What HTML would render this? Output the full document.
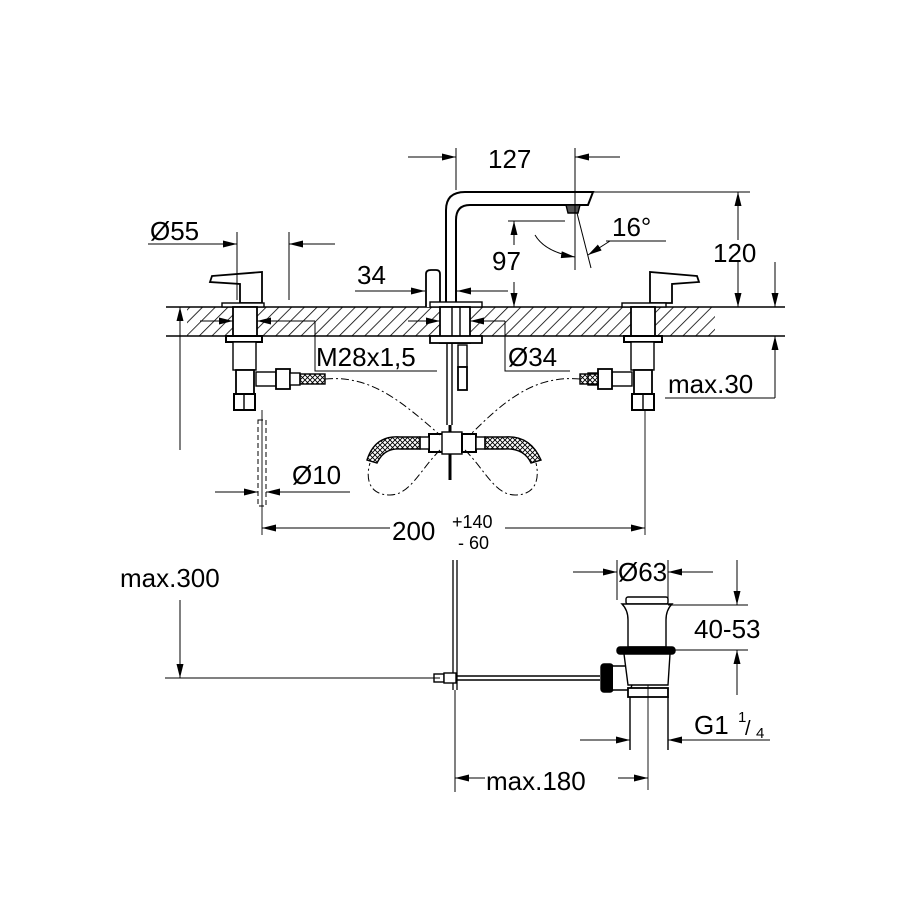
<!DOCTYPE html>
<html><head><meta charset="utf-8"><style>
html,body{margin:0;padding:0;background:#fff}
svg{display:block}
text{font-family:"Liberation Sans",sans-serif;fill:#000}
</style></head><body>
<svg width="900" height="900" viewBox="0 0 900 900" xmlns="http://www.w3.org/2000/svg">
<defs>
<marker id="a" viewBox="0 0 14 7" refX="14" refY="3.5" markerWidth="14" markerHeight="7" orient="auto" markerUnits="userSpaceOnUse"><path d="M0,0 L14,3.5 L0,7 z" fill="#000"/></marker>
<pattern id="h" width="9" height="9" patternUnits="userSpaceOnUse" patternTransform="rotate(45)"><line x1="0" y1="0" x2="0" y2="9" stroke="#000" stroke-width="1.6"/></pattern>
<pattern id="br" width="5" height="5" patternUnits="userSpaceOnUse"><path d="M0,0L5,5M5,0L0,5" stroke="#000" stroke-width="0.9"/></pattern>
</defs>
<g fill="none" stroke="#000" stroke-width="1.4">
<rect x="187" y="307" width="528" height="29" fill="url(#h)" stroke="none"/>
<line x1="166" y1="307" x2="785" y2="307"/>
<line x1="166" y1="336" x2="785" y2="336"/>

<path d="M212,276 L262,272 L262,303 L240,303 L240,284 L210,282 Z" fill="#fff" stroke-width="1.8"/>
<rect x="222" y="303" width="42" height="4" fill="#fff"/>
<rect x="233" y="307" width="24" height="30" fill="#fff" stroke-width="1.8"/>
<rect x="226" y="336" width="36" height="6" fill="#fff" stroke-width="2"/>
<rect x="233" y="342" width="23" height="28" fill="#fff"/>
<rect x="236" y="370" width="18" height="24" fill="#fff" stroke-width="1.8"/>
<rect x="234" y="394" width="21" height="16" fill="#fff" stroke-width="2"/>
<line x1="244" y1="394" x2="244" y2="410"/>
<rect x="256" y="372" width="20" height="14" fill="#fff"/>
<rect x="276" y="369" width="14" height="20" fill="#fff" stroke-width="1.8"/>
<rect x="290" y="373" width="10" height="12" fill="#fff"/>
<rect x="300" y="374" width="25" height="10" fill="url(#br)"/>

<path d="M697,276 L650,272 L650,303 L672,303 L672,284 L699,282 Z" fill="#fff" stroke-width="1.8"/>
<rect x="622" y="303" width="44" height="4" fill="#fff"/>
<rect x="631" y="307" width="24" height="30" fill="#fff" stroke-width="1.8"/>
<rect x="624" y="336" width="38" height="6" fill="#fff" stroke-width="2"/>
<rect x="631" y="342" width="23" height="28" fill="#fff"/>
<rect x="634" y="370" width="18" height="24" fill="#fff" stroke-width="1.8"/>
<rect x="632" y="394" width="22" height="16" fill="#fff" stroke-width="2"/>
<line x1="643" y1="394" x2="643" y2="410"/>
<rect x="612" y="372" width="20" height="14" fill="#fff"/>
<rect x="598" y="369" width="14" height="20" fill="#fff" stroke-width="1.8"/>
<rect x="588" y="373" width="10" height="12" fill="#fff"/>
<rect x="580" y="374" width="18" height="10" fill="url(#br)"/>

<path d="M446,307 L446,210 Q446,192 465,192 L593,192 L588,205 L470,205 Q456,205 456,220 L456,307" fill="#fff" stroke-width="2"/>
<path d="M566,205 L580,205 L578,213 L568,213 Z" fill="#555"/>
<path d="M426,307 L426,274 Q426,270 431,270 L436,270 Q440,270 440,274 L440,307" fill="#fff" stroke-width="1.8"/>
<rect x="430" y="302" width="52" height="5" fill="#fff"/>
<rect x="440" y="307" width="30" height="36" fill="#fff" stroke-width="1.8"/>
<line x1="452" y1="307" x2="452" y2="343"/><line x1="460" y1="307" x2="460" y2="343"/>
<rect x="430" y="336" width="52" height="7" fill="#fff" stroke-width="1.8"/>
<line x1="447" y1="343" x2="447" y2="405"/><line x1="452" y1="343" x2="452" y2="405"/>
<rect x="458" y="345" width="9" height="22" fill="#fff"/>
<rect x="458" y="367" width="9" height="23" fill="#fff" stroke-width="1.8"/>
<path d="M447,405 L447,425 M452,405 L452,425"/>
<line x1="450" y1="425" x2="450" y2="480" stroke-width="3"/>

<rect x="429" y="434" width="14" height="18" fill="#fff" stroke-width="2"/>
<rect x="442" y="432" width="20" height="22" fill="#fff"/>
<rect x="462" y="434" width="14" height="18" fill="#fff" stroke-width="2"/>
<rect x="420" y="437" width="9" height="12" fill="#fff"/>
<rect x="476" y="437" width="9" height="12" fill="#fff"/>
<path d="M420,437 L400,437 Q375,435 367,460 L377,463 Q384,448 400,449 L420,449 Z" fill="url(#br)"/>
<path d="M485,437 L505,437 Q530,435 541,460 L531,463 Q524,448 505,449 L485,449 Z" fill="url(#br)"/>

<g stroke-dasharray="8,3,2,3" stroke-width="1">
<path d="M325,379 C370,375 400,400 440,435"/>
<path d="M580,379 C535,375 505,400 470,435"/>
<path d="M440,450 C420,470 410,495 390,495 C370,495 365,480 370,463"/>
<path d="M465,450 C485,470 495,495 515,495 C535,495 540,480 536,463"/>
</g>

<rect x="258" y="420" width="8" height="86" stroke-dasharray="5,3" stroke-width="1"/>
<line x1="262" y1="410" x2="262" y2="535" stroke-width="0.9"/>
<line x1="645" y1="410" x2="645" y2="535" stroke-width="0.9"/>

<line x1="453" y1="560" x2="453" y2="690" stroke-width="1.3"/>
<line x1="457" y1="560" x2="457" y2="690" stroke-width="1.3"/>
<line x1="440" y1="676" x2="600" y2="676"/>
<line x1="440" y1="680" x2="600" y2="680"/>
<rect x="434" y="674" width="10" height="8" fill="#fff"/>
<rect x="444" y="673" width="12" height="10" fill="#fff"/>
<rect x="601" y="664" width="12" height="28" rx="3" fill="#000"/>
<path d="M613,666 L630,666 Q636,678 630,690 L613,690" fill="#fff"/>
<rect x="626" y="597" width="42" height="7" rx="2" fill="#fff"/>
<path d="M622,604 L672,604 Q666,610 666,620 L666,647 L628,647 L628,620 Q628,610 622,604 Z" fill="#fff"/>
<rect x="617" y="647" width="58" height="7" rx="3" fill="#000"/>
<path d="M624,654 L670,654 L668,685 L628,685 Z" fill="#fff"/>
<rect x="628" y="688" width="40" height="9" fill="#fff" stroke-width="1.8"/>
<line x1="630" y1="697" x2="630" y2="750"/>
<line x1="668" y1="697" x2="668" y2="750"/>
<line x1="648" y1="685" x2="648" y2="790" stroke-width="0.9"/>
</g>

<g fill="none" stroke="#000" stroke-width="1">
<line x1="456" y1="148" x2="456" y2="190"/><line x1="575" y1="148" x2="575" y2="270"/>
<line x1="408" y1="157" x2="456" y2="157" marker-end="url(#a)"/>
<line x1="620" y1="157" x2="575" y2="157" marker-end="url(#a)"/>
<line x1="593" y1="192" x2="750" y2="192"/>
<line x1="738" y1="240" x2="738" y2="192" marker-end="url(#a)"/>
<line x1="738" y1="262" x2="738" y2="307" marker-end="url(#a)"/>
<line x1="775" y1="262" x2="775" y2="307" marker-end="url(#a)"/>
<line x1="775" y1="398" x2="775" y2="336" marker-end="url(#a)"/>
<line x1="665" y1="398" x2="775" y2="398"/>
<line x1="508" y1="221" x2="565" y2="221"/>
<line x1="514" y1="245" x2="514" y2="221" marker-end="url(#a)"/>
<line x1="514" y1="282" x2="514" y2="307" marker-end="url(#a)"/>
<line x1="577" y1="213" x2="591" y2="268"/>
<path d="M535,235 Q545,252 575,257" marker-end="url(#a)"/>
<line x1="610" y1="241" x2="588" y2="255" marker-end="url(#a)"/>
<line x1="606" y1="241" x2="666" y2="241"/>
<line x1="355" y1="291" x2="425" y2="291" marker-end="url(#a)"/>
<line x1="508" y1="291" x2="457" y2="291" marker-end="url(#a)"/>
<line x1="237" y1="232" x2="237" y2="300"/><line x1="289" y1="232" x2="289" y2="300"/>
<line x1="148" y1="244" x2="237" y2="244" marker-end="url(#a)"/>
<line x1="335" y1="244" x2="289" y2="244" marker-end="url(#a)"/>
<line x1="200" y1="321" x2="233" y2="321" marker-end="url(#a)"/>
<line x1="315" y1="321" x2="257" y2="321" marker-end="url(#a)"/>
<polyline points="315,321 315,371 437,371"/>
<line x1="408" y1="321" x2="440" y2="321" marker-end="url(#a)"/>
<line x1="505" y1="321" x2="470" y2="321" marker-end="url(#a)"/>
<polyline points="505,321 505,371 570,371"/>
<line x1="215" y1="492" x2="258" y2="492" marker-end="url(#a)"/>
<line x1="350" y1="492" x2="266" y2="492" marker-end="url(#a)"/>
<line x1="330" y1="528" x2="262" y2="528" marker-end="url(#a)"/>
<line x1="580" y1="528" x2="645" y2="528" marker-end="url(#a)"/>
<line x1="290" y1="528" x2="390" y2="528"/><line x1="505" y1="528" x2="600" y2="528"/>
<line x1="180" y1="450" x2="180" y2="307" marker-end="url(#a)"/>
<line x1="180" y1="600" x2="180" y2="678" marker-end="url(#a)"/>
<line x1="165" y1="678" x2="440" y2="678"/>
<line x1="617" y1="560" x2="617" y2="600"/><line x1="668" y1="560" x2="668" y2="600"/>
<line x1="573" y1="572" x2="617" y2="572" marker-end="url(#a)"/>
<line x1="713" y1="572" x2="668" y2="572" marker-end="url(#a)"/>
<line x1="668" y1="605" x2="748" y2="605"/><line x1="675" y1="650" x2="748" y2="650"/>
<line x1="737" y1="560" x2="737" y2="605" marker-end="url(#a)"/>
<line x1="737" y1="695" x2="737" y2="650" marker-end="url(#a)"/>
<line x1="580" y1="740" x2="630" y2="740" marker-end="url(#a)"/>
<line x1="770" y1="740" x2="668" y2="740" marker-end="url(#a)"/>
<line x1="455" y1="690" x2="455" y2="792"/>
<line x1="485" y1="778" x2="455" y2="778" marker-end="url(#a)"/>
<line x1="618" y1="778" x2="648" y2="778" marker-end="url(#a)"/>
</g>

<g font-size="26">
<text x="488" y="168">127</text>
<text x="713" y="262">120</text>
<text x="492" y="270">97</text>
<text x="612" y="236">16°</text>
<text x="357" y="284">34</text>
<text x="150" y="240">Ø55</text>
<text x="316" y="366">M28x1,5</text>
<text x="508" y="366">Ø34</text>
<text x="668" y="393">max.30</text>
<text x="292" y="484">Ø10</text>
<text x="392" y="540">200</text>
<text x="120" y="587">max.300</text>
<text x="618" y="581">Ø63</text>
<text x="694" y="638">40-53</text>
<text x="694" y="734">G1</text>
<text x="486" y="790">max.180</text>
</g>
<text x="452" y="528" font-size="18">+140</text>
<text x="458" y="549" font-size="18">-  60</text>
<text x="738" y="722" font-size="15">1</text>
<text x="745" y="735" font-size="20">/</text>
<text x="756" y="738" font-size="15">4</text>
</svg>
</body></html>
